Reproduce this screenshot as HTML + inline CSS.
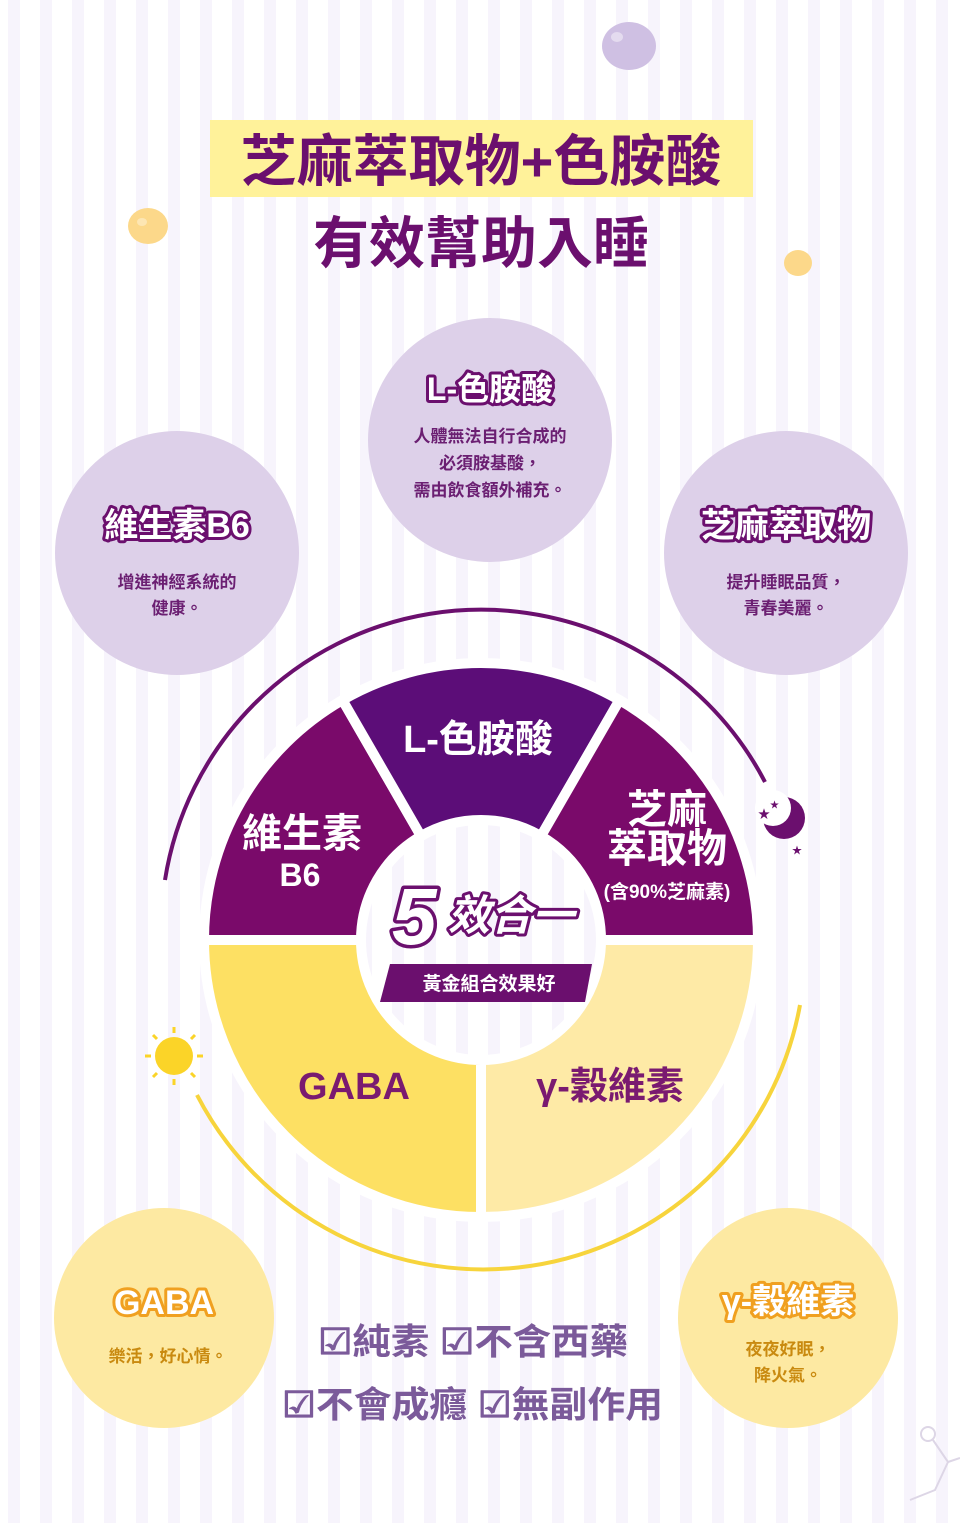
<!DOCTYPE html>
<html><head><meta charset="utf-8"><style>
html,body{margin:0;padding:0;width:960px;height:1523px;overflow:hidden;background:#fff}
svg{display:block}
text{font-family:"Liberation Sans","Noto Sans CJK TC",sans-serif;font-weight:bold}
</style></head><body>
<svg width="960" height="1523" viewBox="0 0 960 1523" xmlns="http://www.w3.org/2000/svg">
<defs>
<pattern id="st" x="8" y="0" width="32" height="10" patternUnits="userSpaceOnUse">
<rect width="12" height="10" fill="#f7f4fc"/></pattern>
</defs>
<rect width="960" height="1523" fill="#fff"/>
<rect width="960" height="1523" fill="url(#st)"/>
<!-- beads -->
<ellipse cx="629" cy="46" rx="27" ry="24" fill="#cfc0e3"/>
<ellipse cx="617" cy="37" rx="6" ry="5" fill="#e4dbef"/>
<ellipse cx="148" cy="226" rx="20" ry="18" fill="#fcd88a"/>
<ellipse cx="142" cy="222" rx="5" ry="4" fill="#fde6b3"/>
<ellipse cx="798" cy="263" rx="14" ry="13" fill="#fcd88a"/>
<!-- title -->
<rect x="210" y="120" width="543" height="77" fill="#fff29a"/>
<text x="481" y="181" font-size="56" fill="#6b0f6e" text-anchor="middle">芝麻萃取物+色胺酸</text>
<text x="481" y="263" font-size="56" fill="#6b0f6e" text-anchor="middle">有效幫助入睡</text>
<!-- small circles -->
<g text-anchor="middle">
<circle cx="490" cy="440" r="122" fill="#ddd0e9"/>
<text x="490" y="400" font-size="32" fill="#fff" stroke="#6b0f6e" stroke-width="6" paint-order="stroke" stroke-linejoin="round">L-色胺酸</text>
<text x="490" y="442" font-size="17" fill="#6b1f72">人體無法自行合成的</text>
<text x="490" y="469" font-size="17" fill="#6b1f72">必須胺基酸，</text>
<text x="490" y="496" font-size="17" fill="#6b1f72">需由飲食額外補充。</text>
<circle cx="177" cy="553" r="122" fill="#ddd0e9"/>
<text x="177" y="537" font-size="34" fill="#fff" stroke="#6b0f6e" stroke-width="6" paint-order="stroke" stroke-linejoin="round">維生素B6</text>
<text x="177" y="588" font-size="17" fill="#6b1f72">增進神經系統的</text>
<text x="177" y="614" font-size="17" fill="#6b1f72">健康。</text>
<circle cx="786" cy="553" r="122" fill="#ddd0e9"/>
<text x="786" y="537" font-size="34" fill="#fff" stroke="#6b0f6e" stroke-width="6" paint-order="stroke" stroke-linejoin="round">芝麻萃取物</text>
<text x="786" y="588" font-size="17" fill="#6b1f72">提升睡眠品質，</text>
<text x="786" y="614" font-size="17" fill="#6b1f72">青春美麗。</text>
<circle cx="164" cy="1318" r="110" fill="#fde9a2"/>
<text x="164" y="1314" font-size="34" fill="#fff" stroke="#f0a020" stroke-width="6" paint-order="stroke" stroke-linejoin="round">GABA</text>
<text x="168" y="1362" font-size="17" fill="#c98a10">樂活，好心情。</text>
<circle cx="788" cy="1318" r="110" fill="#fde9a2"/>
<text x="788" y="1313" font-size="34" fill="#fff" stroke="#f0a020" stroke-width="6" paint-order="stroke" stroke-linejoin="round">γ-穀維素</text>
<text x="788" y="1355" font-size="17" fill="#c98a10">夜夜好眠，</text>
<text x="788" y="1381" font-size="17" fill="#c98a10">降火氣。</text>
</g>
<!-- outer arcs -->
<path d="M165 880 A320 320 0 0 1 765 782" fill="none" stroke="#6b0f6e" stroke-width="4"/>
<path d="M197 1095 A322 322 0 0 0 800 1005" fill="none" stroke="#f7d43c" stroke-width="4"/>
<!-- moon -->
<circle cx="784" cy="818" r="21" fill="#6b0f6e"/>
<circle cx="773" cy="808" r="18" fill="#fff"/>
<text x="758" y="818" font-size="12" fill="#6b0f6e">★</text>
<text x="770" y="808" font-size="9" fill="#6b0f6e">★</text>
<text x="792" y="854" font-size="10" fill="#6b0f6e">★</text>
<!-- sun -->
<circle cx="174" cy="1056" r="19" fill="#fbd428"/>
<g stroke="#fbd428" stroke-width="3"><path d="M174 1027v6M174 1079v6M145 1056h6M197 1056h6M153 1035l4 4M191 1073l4 4M195 1035l-4 4M157 1073l-4 4"/></g>
<!-- pie -->
<g stroke="#fff" stroke-width="10" stroke-linejoin="miter">
<path d="M204 940 A277 277 0 0 1 342.5 700.1 L421 836.1 A120 120 0 0 0 361 940 Z" fill="#7a0a6a"/>
<path d="M342.5 700.1 A277 277 0 0 1 619.5 700.1 L541 836.1 A120 120 0 0 0 421 836.1 Z" fill="#5c0d78"/>
<path d="M619.5 700.1 A277 277 0 0 1 758 940 L601 940 A120 120 0 0 0 541 836.1 Z" fill="#7a0a6a"/>
<path d="M758 940 A277 277 0 0 1 481 1217 L481 1060 A120 120 0 0 0 601 940 Z" fill="#feeaa6"/>
<path d="M481 1217 A277 277 0 0 1 204 940 L361 940 A120 120 0 0 0 481 1060 Z" fill="#fde063"/>
</g>
<g text-anchor="middle" fill="#fff">
<text x="478" y="752" font-size="38">L-色胺酸</text>
<text x="302" y="847" font-size="40">維生素</text>
<text x="300" y="886" font-size="32">B6</text>
<text x="667" y="823" font-size="40">芝麻</text>
<text x="667" y="862" font-size="40">萃取物</text>
<text x="667" y="898" font-size="19">(含90%芝麻素)</text>
<text x="354" y="1099" font-size="38" fill="#7a1a70">GABA</text>
<text x="610" y="1099" font-size="38" fill="#7a1a70">γ-穀維素</text>
</g>
<text x="392" y="944" font-size="80" font-style="italic" fill="#fff" stroke="#6b0f6e" stroke-width="7" paint-order="stroke" stroke-linejoin="round">5</text>
<text x="448" y="930" font-size="42" font-style="italic" fill="#fff" stroke="#6b0f6e" stroke-width="6" paint-order="stroke" stroke-linejoin="round">效合一</text>
<path d="M390 964 L592 964 L585 1002 L380 1002 Z" fill="#6b0f6e"/>
<text x="489" y="990" font-size="19" fill="#fff" text-anchor="middle">黃金組合效果好</text>
<!-- checklist -->
<g fill="#7b5a9a" font-size="36">
<text x="318" y="1354" textLength="310" lengthAdjust="spacingAndGlyphs">☑純素 ☑不含西藥</text>
<text x="282" y="1417" textLength="381" lengthAdjust="spacingAndGlyphs">☑不會成癮 ☑無副作用</text>
</g>
<!-- molecule deco -->
<g fill="none" stroke="#ddd6e6" stroke-width="2">
<circle cx="928" cy="1434" r="7"/><path d="M933 1440 L948 1462 L935 1490 L910 1500 M948 1462 L960 1458"/>
</g>
</svg>
</body></html>
